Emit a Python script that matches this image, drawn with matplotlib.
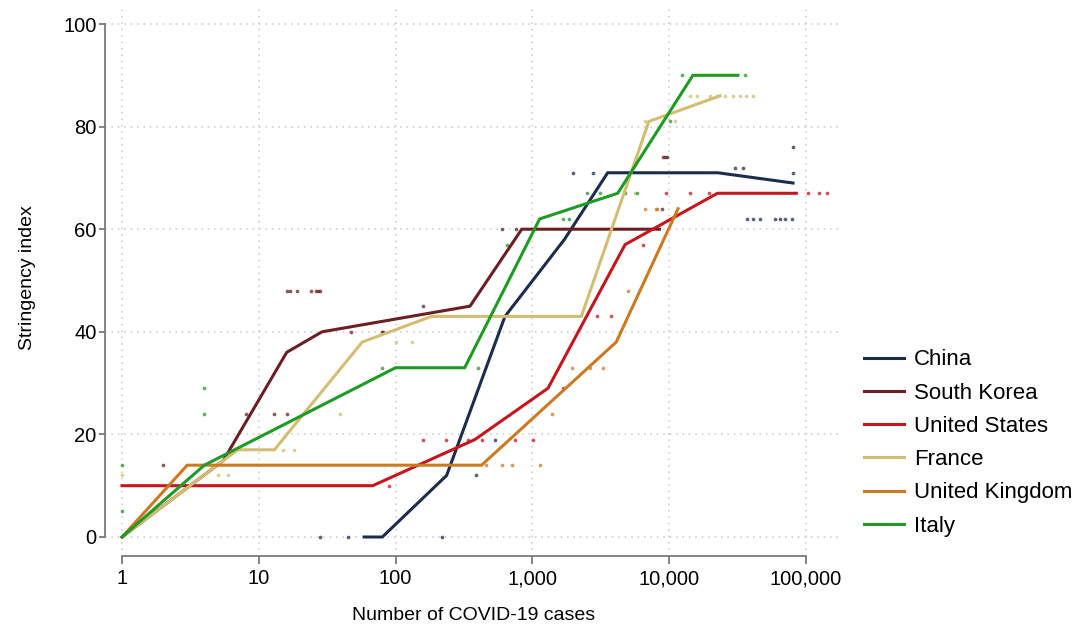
import numpy as np
import matplotlib
matplotlib.use("Agg")
import matplotlib.pyplot as plt
from matplotlib.ticker import FixedLocator, FixedFormatter

plt.rcParams['font.family'] = ['Liberation Sans', 'DejaVu Sans']

# ---------------- data ----------------
countries = ["China", "South Korea", "United States", "France", "United Kingdom", "Italy"]
colors = ["#1c2d4c", "#6a1f24", "#c4161c", "#d3bd72", "#cc7a22", "#1f9a25"]

# fitted (median) lines
china_x = [59, 80, 236, 630, 1714, 3550, 22700, 80400]
china_y = [0, 0, 12, 43, 58, 71, 71, 69]
korea_x = [1, 5.5, 16, 29, 350, 836, 8500]
korea_y = [0, 14.9, 36, 40, 45, 60, 60]
us_x = [1, 68, 380, 1300, 4760, 22500, 85000]
us_y = [10, 10, 19, 29, 57, 67, 67]
france_x = [1, 7, 13, 57, 183, 2280, 7100, 23500]
france_y = [0, 17, 17, 38, 43, 43, 81, 86]
uk_x = [1, 3, 425, 4100, 11600]
uk_y = [0, 14, 14, 38, 64]
italy_x = [1, 4, 100, 320, 1130, 4200, 14900, 31800]
italy_y = [0, 14, 33, 33, 62, 67, 90, 90]

# observed points
china_px = [28, 45, 218, 387, 533, 1980, 2773, 30260, 34620, 37050, 41000, 46100, 59300, 64500, 70200, 79000, 80400, 80400]
china_py = [0, 0, 0, 12, 19, 71, 71, 72, 72, 62, 62, 62, 62, 62, 62, 62, 76, 71]
korea_px = [2, 8, 13, 16, 16, 17, 19, 24, 26, 27, 28, 47, 80, 81, 159, 600, 759, 8855, 9000, 9310, 9640]
korea_py = [14, 24, 24, 24, 48, 48, 48, 48, 48, 48, 48, 40, 40, 40, 45, 60, 60, 64, 74, 74, 74]
us_px = [90, 159, 234, 338, 428, 746, 1010, 1674, 2966, 3756, 6433, 9480, 14200, 19540, 103500, 124500, 142500]
us_py = [10, 19, 19, 19, 19, 19, 19, 29, 43, 43, 57, 67, 67, 67, 67, 67, 67]
france_px = [1, 5, 6, 15, 18, 39, 101, 132, 5624, 6658, 11030, 14200, 15960, 19860, 22340, 25570, 29260, 32940, 36400, 41000]
france_py = [12, 12, 12, 17, 17, 24, 38, 38, 67, 81, 81, 86, 86, 86, 86, 86, 86, 86, 86, 86]
uk_px = [458, 600, 709, 1136, 1390, 1945, 2636, 3282, 5000, 6658, 8014, 8146]
uk_py = [14, 14, 14, 14, 24, 33, 33, 33, 48, 64, 64, 64]
italy_px = [1, 1, 4, 4, 80, 400, 652, 1674, 1850, 2505, 3120, 4755, 5818, 10140, 12400, 35810]
italy_py = [14, 5, 29, 24, 33, 33, 57, 62, 62, 67, 67, 67, 67, 81, 90, 90]

x_ticks = [1, 10, 100, 1000, 10000, 100000]
x_ticklabels = ["1", "10", "100", "1,000", "10,000", "100,000"]
y_ticks = [0, 20, 40, 60, 80, 100]
y_ticklabels = ["0", "20", "40", "60", "80", "100"]

lines = [(china_x, china_y), (korea_x, korea_y), (us_x, us_y),
         (france_x, france_y), (uk_x, uk_y), (italy_x, italy_y)]
points = [(china_px, china_py), (korea_px, korea_py), (us_px, us_py),
          (france_px, france_py), (uk_px, uk_py), (italy_px, italy_py)]

# ---------------- figure ----------------
W, H = 1073, 624
fig = plt.figure(figsize=(W / 100, H / 100), dpi=100)
ax = fig.add_axes([105 / W, 1 - 550 / H, (843 - 105) / W, (550 - 5) / H])
ax.set_xscale("log")
ax.set_xlim(10 ** (-17 / 136.8), 10 ** ((843 - 122) / 136.8))
ax.set_ylim((537 - 550) / 5.13, (537 - 5) / 5.13)

# scatter points
for (px, py), c in zip(points, colors):
    ax.scatter(px, py, s=7, color=c, alpha=0.75, linewidths=0, zorder=2)

# lines
for (lx, ly), c, name in zip(lines, colors, countries):
    ax.plot(lx, ly, color=c, lw=2.2, solid_joinstyle="miter", zorder=3, label=name)

# grid
ax.xaxis.set_major_locator(FixedLocator(x_ticks))
ax.xaxis.set_major_formatter(FixedFormatter(x_ticklabels))
ax.xaxis.set_minor_locator(FixedLocator([]))
ax.yaxis.set_major_locator(FixedLocator(y_ticks))
ax.yaxis.set_major_formatter(FixedFormatter(y_ticklabels))
ax.grid(True, which="major", color="#c8c8c8", linestyle=(0, (1, 3.2)), linewidth=1.1, zorder=0)
ax.set_axisbelow(True)

for s in ["top", "right"]:
    ax.spines[s].set_visible(False)
ax.spines["left"].set_bounds(0, 100)
ax.spines["bottom"].set_bounds(1, 100000)
ax.spines["bottom"].set_position(("outward", 4))
for s in ["left", "bottom"]:
    ax.spines[s].set_color("#7a7a7a")
    ax.spines[s].set_linewidth(1.3)

ax.tick_params(axis="y", direction="out", length=4, width=1.3, color="#7a7a7a",
               labelsize=14.5, pad=2)
ax.tick_params(axis="x", direction="out", length=6, width=1.3, color="#7a7a7a",
               labelsize=14.5, pad=4)

ax.set_xlabel("Number of COVID-19 cases", fontsize=14, labelpad=13)
ax.set_ylabel("Stringency index", fontsize=14, labelpad=20)

leg = fig.legend(loc="center left", bbox_to_anchor=(864 / W, 1 - 443 / H),
                 frameon=False, fontsize=16, handlelength=1.8, handletextpad=0.45,
                 labelspacing=0.55, borderpad=0, borderaxespad=0)
for lh in leg.get_lines():
    lh.set_linewidth(2.2)

fig.savefig("out.png", dpi=100)
